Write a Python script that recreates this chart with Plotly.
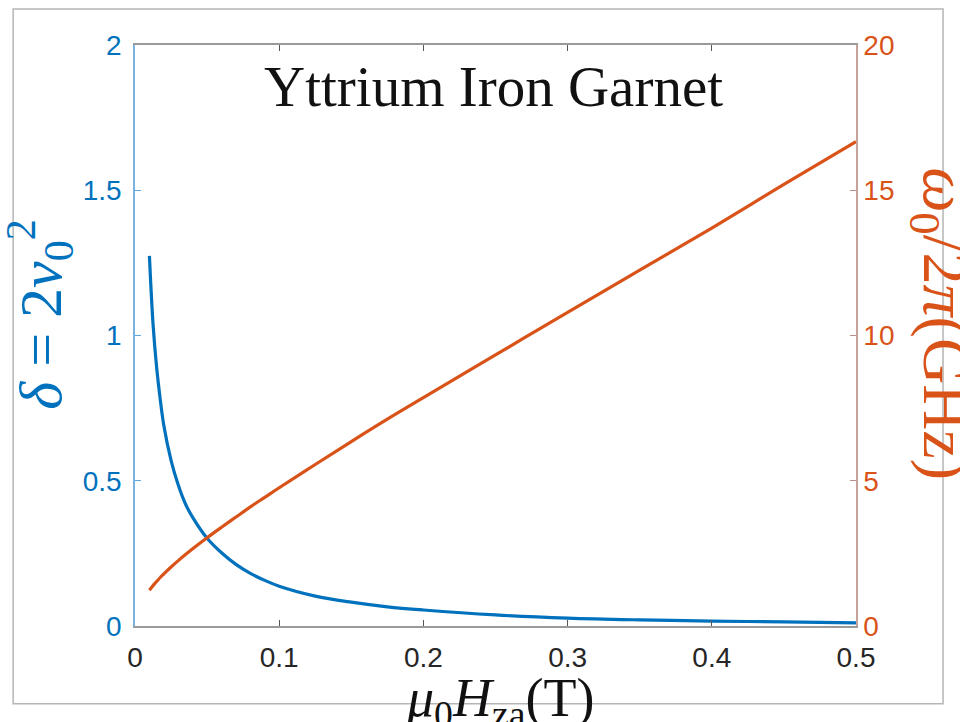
import plotly.graph_objects as go

# Applied field mu0*H_za (T)
field_T = [0.01, 0.0125, 0.015, 0.0175, 0.02, 0.025, 0.03, 0.035, 0.04, 0.05,
           0.06, 0.07, 0.08, 0.09, 0.1, 0.125, 0.15, 0.175, 0.2, 0.25,
           0.3, 0.35, 0.4, 0.45, 0.5]

# delta = 2 v0^2 (left axis)
delta = [1.274, 1.04, 0.89, 0.78, 0.69, 0.57, 0.485, 0.42, 0.374, 0.302,
         0.252, 0.212, 0.181, 0.157, 0.137, 0.103, 0.082, 0.066, 0.055, 0.038,
         0.027, 0.021, 0.017, 0.014, 0.011]

# omega0 / 2pi in GHz (right axis)
freq_GHz = [1.23, 1.39, 1.53, 1.67, 1.79, 2.03, 2.25, 2.46, 2.66, 3.04,
            3.40, 3.75, 4.10, 4.43, 4.76, 5.56, 6.35, 7.12, 7.86, 9.33,
            10.8, 12.25, 13.7, 15.2, 16.67]

x_ticks = [0, 0.1, 0.2, 0.3, 0.4, 0.5]
x_tick_text = ["0", "0.1", "0.2", "0.3", "0.4", "0.5"]
left_ticks = [0, 0.5, 1, 1.5, 2]
left_tick_text = ["0", "0.5", "1", "1.5", "2"]
right_ticks = [0, 5, 10, 15, 20]
right_tick_text = ["0", "5", "10", "15", "20"]

BLUE = "#0072BD"
ORANGE = "#D95319"
SANS = "Liberation Sans, Arial, sans-serif"
SERIF = "Liberation Serif, Times New Roman, serif"

fig = go.Figure()
fig.add_trace(go.Scatter(x=field_T, y=delta, mode="lines", yaxis="y",
                         line=dict(color=BLUE, width=3.2, shape="spline"),
                         showlegend=False))
fig.add_trace(go.Scatter(x=field_T, y=freq_GHz, mode="lines", yaxis="y2",
                         line=dict(color=ORANGE, width=3.2, shape="spline"),
                         showlegend=False))

fig.update_layout(
    width=960, height=722,
    margin=dict(l=135, r=104, t=45, b=96),
    paper_bgcolor="white", plot_bgcolor="white",
    xaxis=dict(range=[0, 0.5], tickvals=x_ticks, ticktext=x_tick_text,
               ticks="inside", ticklen=6, tickcolor="#555555",
               showline=True, linecolor="#9a9a9a", linewidth=1.5,
               mirror="ticks", showgrid=False, zeroline=False,
               ticklabelstandoff=6,
               tickfont=dict(family=SANS, size=28, color="#262626")),
    yaxis=dict(range=[0, 2], tickvals=left_ticks, ticktext=left_tick_text,
               ticks="inside", ticklen=6, tickcolor="#5fa2d6",
               showline=True, linecolor="#7ab3df", linewidth=1.5,
               showgrid=False, zeroline=False, ticklabelstandoff=6,
               tickfont=dict(family=SANS, size=28, color=BLUE)),
    yaxis2=dict(range=[0, 20], tickvals=right_ticks, ticktext=right_tick_text,
                overlaying="y", side="right",
                ticks="inside", ticklen=6, tickcolor="#b89088",
                showline=True, linecolor="#c4a39b", linewidth=1.5,
                showgrid=False, zeroline=False,
                tickfont=dict(family=SANS, size=28, color=ORANGE)),
)

# outer figure frame
fig.add_shape(type="rect", xref="paper", yref="paper",
              x0=-0.169, x1=1.1207, y0=-0.134, y1=1.062,
              line=dict(color="#b5b5b5", width=1.5), layer="below")

# title inside the axes
fig.add_annotation(text="Yttrium Iron Garnet", xref="paper", yref="paper",
                   x=0.497, y=0.928, xanchor="center", yanchor="middle",
                   showarrow=False,
                   font=dict(family=SERIF, size=57, color="#111111"))

# axis labels
fig.add_annotation(text="<i>μ</i><sub>0</sub><i>H</i><sub>za</sub>(T)",
                   xref="paper", yref="paper", x=0.507, y=-0.13,
                   xanchor="center", yanchor="middle", showarrow=False,
                   font=dict(family=SERIF, size=54, color="#111111"))
fig.add_annotation(text="<i>δ</i> = 2<i>v</i><sub>0</sub><sup>2</sup>",
                   xref="paper", yref="paper", x=-0.131, y=0.535,
                   xanchor="center", yanchor="middle",
                   textangle=-90, showarrow=False,
                   font=dict(family=SERIF, size=60, color=BLUE))
fig.add_annotation(text="<i>ω</i><sub>0</sub>/2<i>π</i>(GHz)",
                   xref="paper", yref="paper", x=1.1175, y=0.52,
                   xanchor="center", yanchor="middle",
                   textangle=90, showarrow=False,
                   font=dict(family=SERIF, size=64, color=ORANGE))

fig.write_html("out.html")
